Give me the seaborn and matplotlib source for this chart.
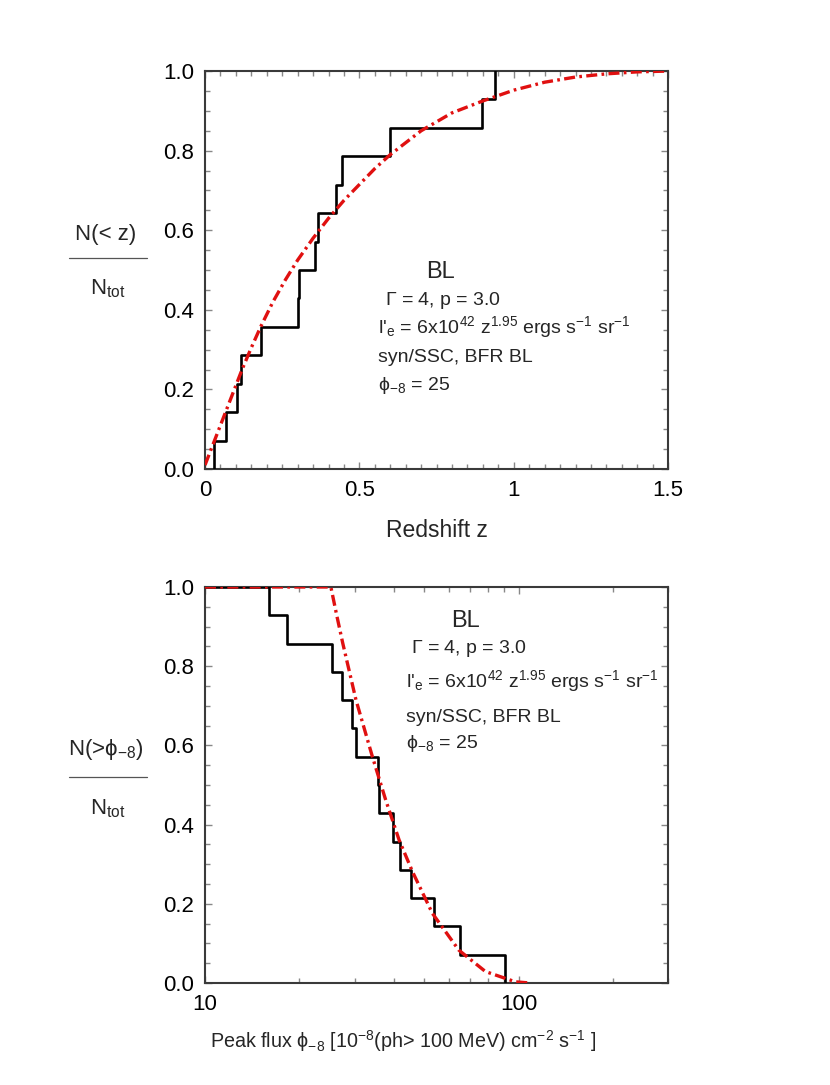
import matplotlib
matplotlib.use("Agg")
import matplotlib.pyplot as plt
from matplotlib.lines import Line2D
from matplotlib.ticker import MultipleLocator, LogLocator, FuncFormatter, NullFormatter
import seaborn as sns

# datos: 14 fuentes BL
z_fuentes = [0.029, 0.067, 0.102, 0.115, 0.181, 0.301, 0.305, 0.357, 0.367,
             0.424, 0.444, 0.600, 0.896, 0.939]
flujo_fuentes = [16.0, 18.2, 25.5, 27.3, 29.4, 30.3, 35.7, 35.9, 39.9,
                 42.0, 45.5, 53.7, 64.9, 90.7]

# curva del modelo (panel de arriba)
z_modelo = [0.0, 0.03, 0.06, 0.09, 0.12, 0.15, 0.18, 0.22, 0.26, 0.30, 0.35,
            0.40, 0.45, 0.50, 0.55, 0.60, 0.70, 0.80, 0.90, 1.0, 1.1, 1.2,
            1.3, 1.4, 1.5]
frac_z_modelo = [0.01, 0.07, 0.13, 0.19, 0.25, 0.305, 0.357, 0.42, 0.475,
                 0.525, 0.58, 0.63, 0.675, 0.715, 0.755, 0.79, 0.85, 0.895,
                 0.925, 0.952, 0.972, 0.985, 0.993, 0.998, 1.0]

# curva del modelo (panel de abajo)
flujo_modelo = [10, 15, 20, 25.2, 26.3, 27.5, 30.3, 34.2, 37.7, 41.6, 45.9,
                53.1, 64.5, 78.4, 97.7, 108.9]
frac_flujo_modelo = [1.0, 1.0, 1.0, 1.0, 0.929, 0.858, 0.715, 0.571, 0.462,
                     0.361, 0.281, 0.176, 0.083, 0.029, 0.003, 0.0]

texto_modelo = [
    r"$\Gamma$ = 4, p = 3.0",
    r"l'$_{\rm e}$ = 6x10$^{42}$ z$^{1.95}$ ergs s$^{-1}$ sr$^{-1}$",
    "syn/SSC, BFR BL",
    r"$\phi_{-8}$ = 25",
]

sns.set_theme(style="ticks")
plt.rcParams["font.family"] = ["Liberation Sans", "DejaVu Sans"]
plt.rcParams["mathtext.fontset"] = "custom"
plt.rcParams["mathtext.rm"] = "Liberation Sans"
plt.rcParams["mathtext.it"] = "Liberation Sans"
plt.rcParams["mathtext.default"] = "rm"

ROJO = "#e01010"
DASH = (0, (3.3, 1.3, 0.8, 1.3))

fig = plt.figure(figsize=(8.3, 10.85), dpi=100)
ax1 = fig.add_axes([0.247, 0.5677, 0.558, 0.3668])
ax2 = fig.add_axes([0.247, 0.094, 0.558, 0.365])


def estilo_ejes(ax):
    for s in ax.spines.values():
        s.set_color("#3a3a3a")
        s.set_linewidth(1.5)
    ax.tick_params(which="both", direction="in", top=True, right=True,
                   color="#888888", labelsize=16, labelcolor="black")
    ax.tick_params(which="major", length=5, width=1, pad=8)
    ax.tick_params(which="minor", length=3.3, width=1)
    ax.set_ylim(0, 1)
    ax.yaxis.set_major_locator(MultipleLocator(0.2))
    ax.yaxis.set_minor_locator(MultipleLocator(0.05))
    ax.yaxis.set_major_formatter(FuncFormatter(lambda v, p: f"{v:.1f}"))
    ax.set_xlabel("")
    ax.set_ylabel("")


# panel de arriba: N(<z)
sns.ecdfplot(x=z_fuentes, ax=ax1, color="black", lw=1.9, zorder=3)
sns.lineplot(x=z_modelo, y=frac_z_modelo, ax=ax1, color=ROJO, lw=2.4,
             linestyle=DASH, sort=False, estimator=None, zorder=4)
ax1.set_xlim(0, 1.5)
estilo_ejes(ax1)
ax1.xaxis.set_major_locator(MultipleLocator(0.5))
ax1.xaxis.set_minor_locator(MultipleLocator(0.05))
ax1.xaxis.set_major_formatter(FuncFormatter(lambda v, p: f"{v:g}"))

# panel de abajo: N(>phi)
sns.ecdfplot(x=flujo_fuentes, ax=ax2, complementary=True, log_scale=True,
             color="black", lw=1.9, zorder=3)
sns.lineplot(x=flujo_modelo, y=frac_flujo_modelo, ax=ax2, color=ROJO, lw=2.4,
             linestyle=DASH, sort=False, estimator=None, zorder=4)
ax2.set_xscale("log")
ax2.set_xlim(10, 300)
estilo_ejes(ax2)
ax2.xaxis.set_major_locator(LogLocator(base=10))
ax2.xaxis.set_minor_locator(LogLocator(base=10, subs=range(2, 10)))
ax2.xaxis.set_major_formatter(FuncFormatter(lambda v, p: f"{v:g}"))
ax2.xaxis.set_minor_formatter(NullFormatter())

# anotaciones
for ax, (x_bl, y_bl), x_g, x_t, ys in [
    (ax1, (0.508, 0.479), 0.389, 0.374, [0.412, 0.341, 0.268, 0.198]),
    (ax2, (0.562, 0.900), 0.444, 0.434, [0.834, 0.748, 0.660, 0.593]),
]:
    ax.text(x_bl, y_bl, "BL", transform=ax.transAxes, ha="center",
            va="baseline", fontsize=17)
    for i, (linea, y) in enumerate(zip(texto_modelo, ys)):
        ax.text(x_g if i == 0 else x_t, y, linea, transform=ax.transAxes,
                ha="left", va="baseline", fontsize=14)

# etiquetas de ejes
fig.text(0.527, 0.5115, "Redshift z", ha="center", va="center", fontsize=16.5)
fig.text(0.486, 0.034,
         r"Peak flux $\phi_{-8}$ [10$^{-8}$(ph> 100 MeV) cm$^{-2}$ s$^{-1}$ ]",
         ha="center", va="baseline", fontsize=14.2)

# etiqueta y en forma de fraccion
for y_num, y_linea, y_den, num in [
    (0.779, 0.762, 0.729, "N(< z)"),
    (0.304, 0.2836, 0.249, r"N(>$\phi_{-8}$)"),
]:
    fig.text(0.127, y_num, num, ha="center", va="baseline", fontsize=16)
    fig.add_artist(Line2D([0.083, 0.177], [y_linea, y_linea], color="#555555",
                          lw=0.9, transform=fig.transFigure))
    fig.text(0.130, y_den, r"N$_{\rm tot}$", ha="center", va="baseline",
             fontsize=16)

fig.savefig("out.png", dpi=100)
